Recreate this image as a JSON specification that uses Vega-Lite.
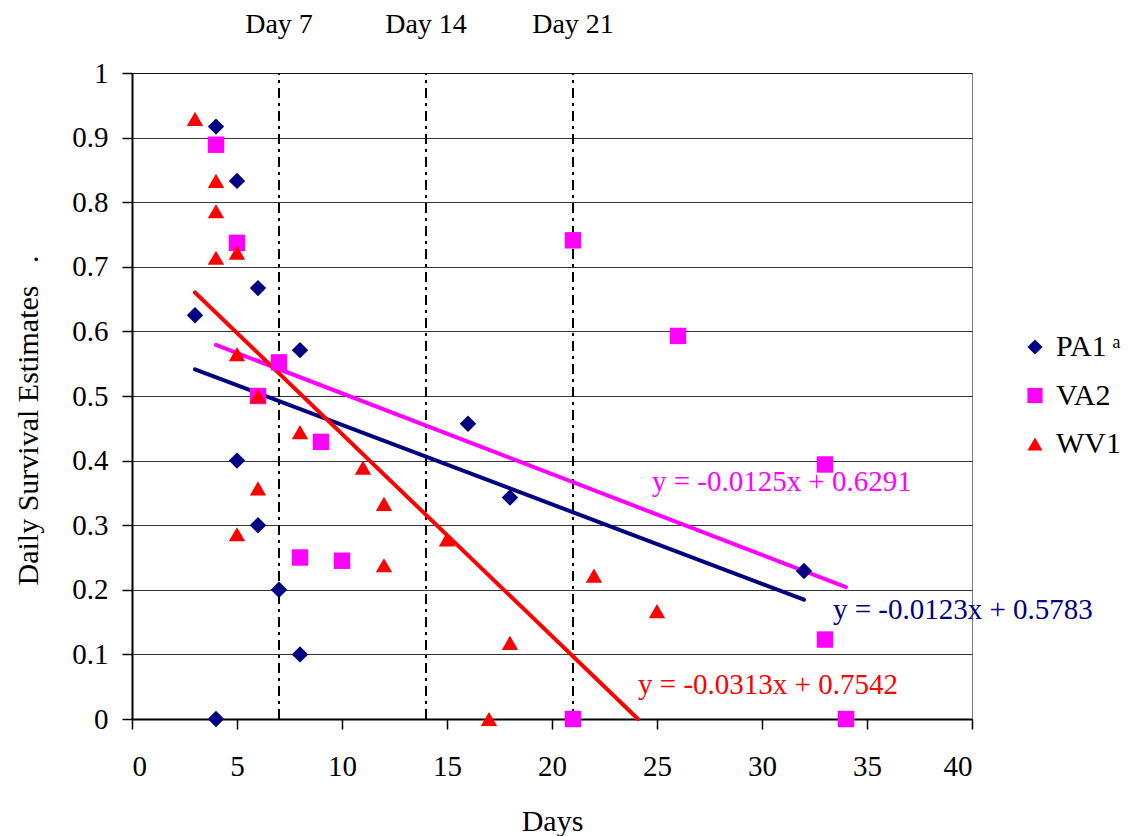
{
  "$schema": "https://vega.github.io/schema/vega-lite/v6.json",
  "width": 840,
  "height": 646,
  "autosize": "none",
  "padding": {"left": 132, "top": 73, "right": 156, "bottom": 117},
  "background": "white",
  "config": {
    "font": "Liberation Serif",
    "view": {"stroke": "#808080", "strokeWidth": 1},
    "axis": {"labelFont": "Liberation Serif", "titleFont": "Liberation Serif"},
    "legend": {"labelFont": "Liberation Serif"},
    "text": {"font": "Liberation Serif"}
  },
  "datasets": {
    "pts": [
      {"series": "PA1", "day": 3, "est": 0.625},
      {"series": "PA1", "day": 4, "est": 0.917},
      {"series": "PA1", "day": 5, "est": 0.833},
      {"series": "PA1", "day": 6, "est": 0.667},
      {"series": "PA1", "day": 8, "est": 0.571},
      {"series": "PA1", "day": 5, "est": 0.4},
      {"series": "PA1", "day": 6, "est": 0.3},
      {"series": "PA1", "day": 7, "est": 0.2},
      {"series": "PA1", "day": 8, "est": 0.1},
      {"series": "PA1", "day": 4, "est": 0.0},
      {"series": "PA1", "day": 16, "est": 0.457},
      {"series": "PA1", "day": 18, "est": 0.343},
      {"series": "PA1", "day": 32, "est": 0.229},
      {"series": "VA2", "day": 4, "est": 0.889},
      {"series": "VA2", "day": 5, "est": 0.737},
      {"series": "VA2", "day": 7, "est": 0.552},
      {"series": "VA2", "day": 6, "est": 0.5},
      {"series": "VA2", "day": 9, "est": 0.429},
      {"series": "VA2", "day": 8, "est": 0.25},
      {"series": "VA2", "day": 10, "est": 0.245},
      {"series": "VA2", "day": 21, "est": 0.741},
      {"series": "VA2", "day": 26, "est": 0.593},
      {"series": "VA2", "day": 33, "est": 0.394},
      {"series": "VA2", "day": 33, "est": 0.123},
      {"series": "VA2", "day": 21, "est": 0.0},
      {"series": "VA2", "day": 34, "est": 0.0},
      {"series": "WV1", "day": 3, "est": 0.929},
      {"series": "WV1", "day": 4, "est": 0.833},
      {"series": "WV1", "day": 4, "est": 0.786},
      {"series": "WV1", "day": 4, "est": 0.714},
      {"series": "WV1", "day": 5, "est": 0.722},
      {"series": "WV1", "day": 5, "est": 0.565},
      {"series": "WV1", "day": 6, "est": 0.5},
      {"series": "WV1", "day": 6, "est": 0.357},
      {"series": "WV1", "day": 5, "est": 0.286},
      {"series": "WV1", "day": 8, "est": 0.444},
      {"series": "WV1", "day": 11, "est": 0.389},
      {"series": "WV1", "day": 12, "est": 0.333},
      {"series": "WV1", "day": 12, "est": 0.238},
      {"series": "WV1", "day": 15, "est": 0.278},
      {"series": "WV1", "day": 18, "est": 0.118},
      {"series": "WV1", "day": 17, "est": 0.0},
      {"series": "WV1", "day": 22, "est": 0.222},
      {"series": "WV1", "day": 25, "est": 0.167}
    ],
    "trend": [
      {"series": "PA1", "day": 3, "est": 0.5414},
      {"series": "PA1", "day": 32, "est": 0.1847},
      {"series": "VA2", "day": 4, "est": 0.5791},
      {"series": "VA2", "day": 34, "est": 0.2041},
      {"series": "WV1", "day": 3, "est": 0.6603},
      {"series": "WV1", "day": 24.096, "est": 0.0}
    ],
    "eq": [
      {"series": "VA2", "day": 24.76, "est": 0.367, "label": "y = -0.0125x + 0.6291"},
      {"series": "PA1", "day": 33.38, "est": 0.169, "label": "y = -0.0123x + 0.5783"},
      {"series": "WV1", "day": 24.1, "est": 0.053, "label": "y = -0.0313x + 0.7542"}
    ],
    "days": [
      {"day": 7, "label": "Day 7"},
      {"day": 14, "label": "Day 14"},
      {"day": 21, "label": "Day 21"}
    ]
  },
  "layer": [
    {
      "data": {"name": "days"},
      "mark": {"type": "rule", "color": "black", "strokeWidth": 2, "strokeDash": [10, 5, 3, 5]},
      "encoding": {
        "x": {
          "field": "day", "type": "quantitative",
          "scale": {"domain": [0, 40], "nice": false, "zero": false},
          "axis": {
            "values": [0, 5, 10, 15, 20, 25, 30, 35, 40],
            "grid": false,
            "tickSize": 10, "tickColor": "black", "tickWidth": 1.5,
            "domainColor": "black", "domainWidth": 2,
            "labelFont": "Liberation Serif",
            "labelFontSize": 29, "labelColor": "black", "labelPadding": 23,
            "title": "Days", "titleFontSize": 30, "titleFontWeight": "normal", "titleColor": "black",
            "titleBaseline": "alphabetic", "titleY": 111
          }
        },
        "y": {
          "datum": 0, "type": "quantitative",
          "scale": {"domain": [0, 1], "nice": false},
          "axis": {
            "values": [0, 0.1, 0.2, 0.3, 0.4, 0.5, 0.6, 0.7, 0.8, 0.9, 1],
            "format": "~g",
            "grid": true, "gridColor": "black", "gridWidth": 1, "gridOpacity": 0.8,
            "tickSize": 10, "tickColor": "black", "tickWidth": 1.5,
            "domainColor": "black", "domainWidth": 2,
            "labelFont": "Liberation Serif",
            "labelFontSize": 29, "labelColor": "black", "labelPadding": 14,
            "title": "Daily Survival Estimates\u00a0\u00a0\u00a0.",
            "titleFontSize": 30, "titleFontWeight": "normal", "titleColor": "black",
            "titleAngle": -90, "titleBaseline": "middle", "titleAlign": "center",
            "titleX": -104, "titleY": 347
          }
        },
        "y2": {"datum": 1}
      }
    },
    {
      "data": {"name": "days"},
      "mark": {"type": "text", "fontSize": 28, "baseline": "alphabetic", "align": "center", "color": "black"},
      "encoding": {
        "x": {"field": "day", "type": "quantitative"},
        "y": {"datum": 1.062, "type": "quantitative"},
        "text": {"field": "label"}
      }
    },
    {
      "data": {"name": "trend"},
      "transform": [{"filter": "datum.series == 'PA1'"}],
      "mark": {"type": "line", "strokeWidth": 4, "strokeCap": "round", "color": "#000080"},
      "encoding": {
        "x": {"field": "day", "type": "quantitative"},
        "y": {"field": "est", "type": "quantitative"}
      }
    },
    {
      "data": {"name": "trend"},
      "transform": [{"filter": "datum.series == 'VA2'"}],
      "mark": {"type": "line", "strokeWidth": 4, "strokeCap": "round", "color": "#FF00FF"},
      "encoding": {
        "x": {"field": "day", "type": "quantitative"},
        "y": {"field": "est", "type": "quantitative"}
      }
    },
    {
      "data": {"name": "trend"},
      "transform": [{"filter": "datum.series == 'WV1'"}],
      "mark": {"type": "line", "strokeWidth": 4, "strokeCap": "round", "color": "#FF0000"},
      "encoding": {
        "x": {"field": "day", "type": "quantitative"},
        "y": {"field": "est", "type": "quantitative"}
      }
    },
    {
      "data": {"name": "eq"},
      "transform": [{"filter": "datum.series == 'PA1'"}],
      "mark": {"type": "text", "fontSize": 29, "align": "left", "baseline": "middle", "color": "#000080"},
      "encoding": {
        "x": {"field": "day", "type": "quantitative"},
        "y": {"field": "est", "type": "quantitative"},
        "text": {"field": "label"}
      }
    },
    {
      "data": {"name": "eq"},
      "transform": [{"filter": "datum.series == 'VA2'"}],
      "mark": {"type": "text", "fontSize": 29, "align": "left", "baseline": "middle", "color": "#FF00FF"},
      "encoding": {
        "x": {"field": "day", "type": "quantitative"},
        "y": {"field": "est", "type": "quantitative"},
        "text": {"field": "label"}
      }
    },
    {
      "data": {"name": "eq"},
      "transform": [{"filter": "datum.series == 'WV1'"}],
      "mark": {"type": "text", "fontSize": 29, "align": "left", "baseline": "middle", "color": "#FF0000"},
      "encoding": {
        "x": {"field": "day", "type": "quantitative"},
        "y": {"field": "est", "type": "quantitative"},
        "text": {"field": "label"}
      }
    },
    {
      "data": {"name": "pts"},
      "mark": {"type": "point", "filled": true, "opacity": 1, "size": 270, "strokeWidth": 0},
      "encoding": {
        "x": {"field": "day", "type": "quantitative"},
        "y": {"field": "est", "type": "quantitative"},
        "color": {
          "field": "series", "type": "nominal",
          "scale": {"domain": ["PA1", "VA2", "WV1"], "range": ["#000080", "#FF00FF", "#FF0000"]},
          "legend": {
            "title": null, "orient": "none", "legendX": 888, "legendY": 259,
            "padding": 0, "labelFontSize": 30, "labelColor": "black", "labelFont": "Liberation Serif",
            "symbolSize": 230, "symbolStrokeWidth": 0, "symbolOpacity": 1,
            "rowPadding": 18.5, "labelOffset": 6,
            "labelExpr": "datum.label == 'PA1' ? 'PA1\u2009\u1d43' : datum.label"
          }
        },
        "shape": {
          "field": "series", "type": "nominal",
          "scale": {"domain": ["PA1", "VA2", "WV1"], "range": ["diamond", "square", "triangle-up"]},
          "legend": {
            "title": null, "orient": "none", "legendX": 888, "legendY": 259,
            "padding": 0, "labelFontSize": 30, "labelColor": "black", "labelFont": "Liberation Serif",
            "symbolSize": 230, "symbolStrokeWidth": 0, "symbolOpacity": 1,
            "rowPadding": 18.5, "labelOffset": 6,
            "labelExpr": "datum.label == 'PA1' ? 'PA1\u2009\u1d43' : datum.label"
          }
        }
      }
    }
  ]
}
